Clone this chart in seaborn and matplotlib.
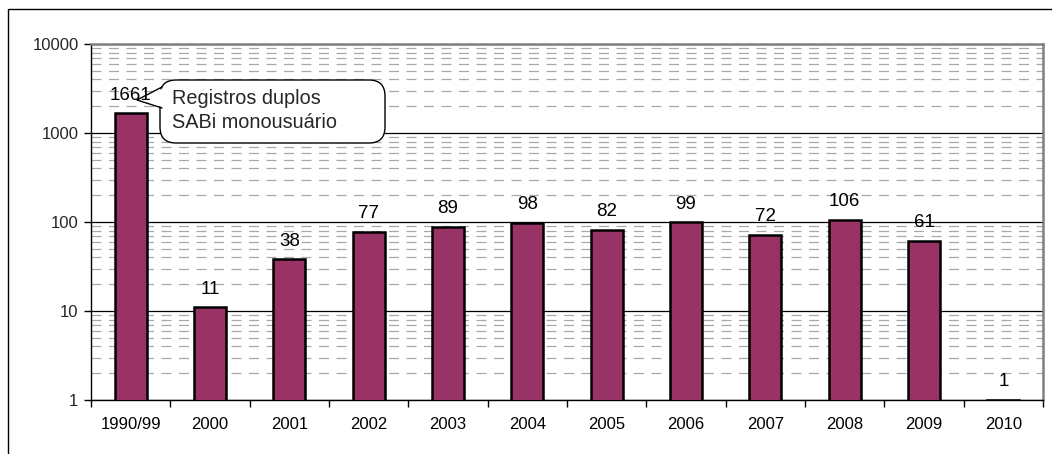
import matplotlib
matplotlib.use("Agg")
import matplotlib.pyplot as plt
import seaborn as sns
import pandas as pd
from matplotlib.ticker import LogLocator, FixedLocator, NullFormatter, FixedFormatter
from matplotlib.patches import Rectangle, FancyBboxPatch, Polygon
from matplotlib.lines import Line2D

categories = ["1990/99", "2000", "2001", "2002", "2003", "2004", "2005",
              "2006", "2007", "2008", "2009", "2010"]
values = [1661, 11, 38, 77, 89, 98, 82, 99, 72, 106, 61, 1]
y_ticks = [1, 10, 100, 1000, 10000]
y_tick_labels = ["1", "10", "100", "1000", "10000"]
callout_text = "Registros duplos\nSABi monousuário"

sns.set_style("white")
plt.rcParams["font.family"] = ["Liberation Sans", "DejaVu Sans"]

df = pd.DataFrame({"cat": categories, "val": values})

fig = plt.figure(figsize=(10.52, 4.54), dpi=100)
ax = fig.add_axes([91 / 1052, 1 - 400 / 454, (1043 - 91) / 1052, (400 - 44) / 454])

sns.barplot(data=df, x="cat", y="val", color="#993366", saturation=1,
            edgecolor="black", linewidth=1.8, width=0.4, ax=ax, zorder=3)
ax.set_yscale("log")
ax.set_ylim(1, 10000)
ax.set_xlim(-0.5, len(categories) - 0.5)

ax.yaxis.set_major_locator(FixedLocator(y_ticks))
ax.yaxis.set_major_formatter(FixedFormatter(y_tick_labels))
ax.yaxis.set_minor_locator(LogLocator(base=10, subs=range(2, 10), numticks=20))
ax.yaxis.set_minor_formatter(NullFormatter())

ax.grid(axis="y", which="major", color="black", linewidth=0.9, linestyle="-", zorder=1)
ax.grid(axis="y", which="minor", color="#a8a8a8", linewidth=0.9,
        linestyle=(0, (8, 6)), zorder=1)
ax.grid(axis="x", visible=False)
ax.set_axisbelow(True)

ax.xaxis.set_minor_locator(FixedLocator([i - 0.5 for i in range(len(categories) + 1)]))
ax.tick_params(axis="x", which="major", length=0, pad=12, labelsize=12, colors="black")
ax.tick_params(axis="x", which="minor", length=5, width=1, color="black", direction="out",
               bottom=True)
ax.tick_params(axis="y", which="major", length=5, width=1, color="black", direction="out",
               left=True, labelsize=12, pad=4)
ax.tick_params(axis="y", which="minor", length=0)

ax.set_xlabel("")
ax.set_ylabel("")

for side in ["left", "bottom"]:
    ax.spines[side].set_color("black")
    ax.spines[side].set_linewidth(1.0)
for side in ["top", "right"]:
    ax.spines[side].set_color("#808080")
    ax.spines[side].set_linewidth(1.8)

ax.bar_label(ax.containers[0], labels=[str(v) for v in values], padding=7,
             fontsize=13.5, color="black", zorder=20)

# Callout bubble (positions in inches from figure bottom-left)
H = 4.54
tr = fig.dpi_scale_trans
box = FancyBboxPatch((1.60, H - 1.43), 2.25, 0.63,
                     boxstyle="round,pad=0,rounding_size=0.16",
                     fc="white", ec="black", lw=1.0, transform=tr, zorder=10,
                     clip_on=False)
ax.add_patch(box)
tip = (1.37, H - 1.00)
up = (1.62, H - 0.87)
lo = (1.62, H - 1.08)
wedge = Polygon([tip, (up[0] + 0.04, up[1]), (lo[0] + 0.04, lo[1])], closed=True,
                fc="white", ec="none", transform=tr, zorder=11, clip_on=False)
ax.add_patch(wedge)
ax.add_line(Line2D([up[0], tip[0], lo[0]], [up[1], tip[1], lo[1]],
                   color="black", lw=1.0, transform=tr, zorder=12, clip_on=False))
ax.text(1.72, H - 1.105, callout_text, transform=tr, fontsize=14.3,
        ha="left", va="center", linespacing=1.3, zorder=13)

fig.patches.append(Rectangle((8 / 1052, -0.1), 1.2, 1 - 9 / 454 + 0.1,
                             transform=fig.transFigure, fill=False,
                             edgecolor="black", linewidth=1.0, zorder=0))

fig.savefig("out.png", dpi=100)
